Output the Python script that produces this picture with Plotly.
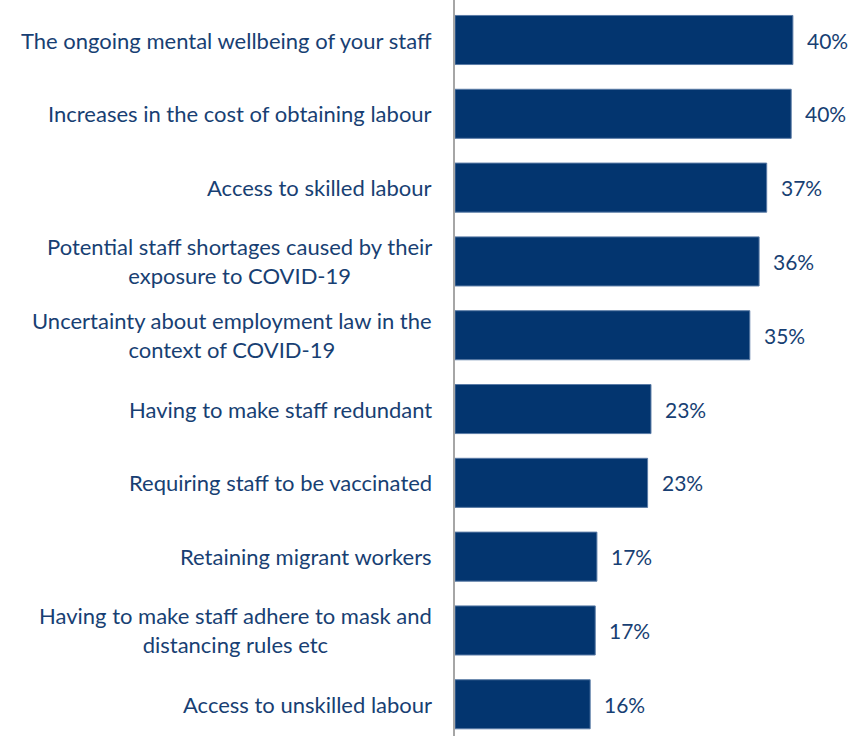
import plotly.graph_objects as go

# Survey items (top to bottom) and share of respondents (%)
categories = [
    "The ongoing mental wellbeing of your staff",
    "Increases in the cost of obtaining labour",
    "Access to skilled labour",
    "Potential staff shortages caused by their<br>exposure to COVID-19",
    "Uncertainty about employment law in the<br>context of COVID-19",
    "Having to make staff redundant",
    "Requiring staff to be vaccinated",
    "Retaining migrant workers",
    "Having to make staff adhere to mask and<br>distancing rules etc",
    "Access to unskilled labour",
]
values = [40.0, 39.8, 36.9, 36.0, 34.9, 23.2, 22.8, 16.8, 16.6, 16.0]

BAR_COLOR = "#03356F"
TEXT_COLOR = "#183F73"
FONT = "Lato"
positions = list(range(len(categories)))

fig = go.Figure()
fig.add_trace(go.Bar(
    x=values,
    y=positions,
    orientation="h",
    width=0.665,
    marker=dict(color=BAR_COLOR, line=dict(color="#5A7BA6", width=1)),
    hoverinfo="skip",
))

annotations = []
for pos, cat, val in zip(positions, categories, values):
    # category label, centred multi-line text, right-aligned to the axis
    annotations.append(dict(
        x=0, xref="x", y=pos, yref="y",
        text=cat, showarrow=False,
        xanchor="right", yanchor="middle", align="center",
        xshift=-21,
        font=dict(family=FONT, size=22, color=TEXT_COLOR),
    ))
    # value label to the right of the bar
    annotations.append(dict(
        x=val, xref="x", y=pos, yref="y",
        text=f"{val:.0f}%", showarrow=False,
        xanchor="left", yanchor="middle",
        xshift=12,
        font=dict(family=FONT, size=21, color=TEXT_COLOR),
    ))

fig.update_layout(
    width=863, height=736,
    margin=dict(l=455, r=0, t=0, b=0),
    paper_bgcolor="white", plot_bgcolor="white",
    showlegend=False,
    annotations=annotations,
    xaxis=dict(range=[0, 48.3], visible=False, fixedrange=True),
    yaxis=dict(
        range=[9.43, -0.542],
        showticklabels=False, showgrid=False, zeroline=False,
        showline=True, linecolor="#A6A6A6", linewidth=2,
        ticks="", fixedrange=True,
    ),
    font=dict(family=FONT),
)

fig.write_html("out.html")
